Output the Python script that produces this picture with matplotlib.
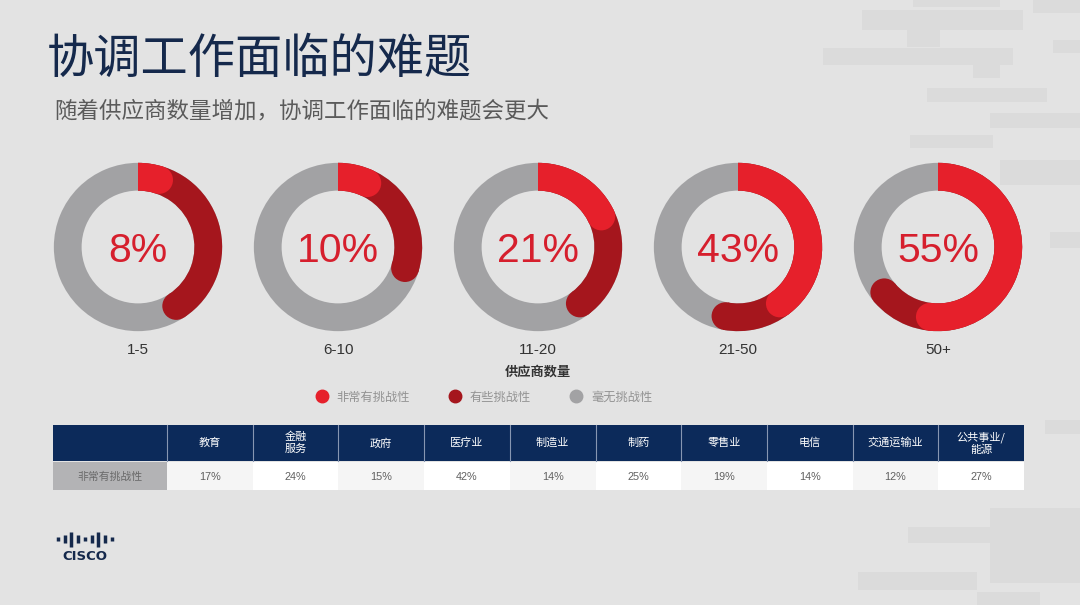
import numpy as np
import matplotlib
matplotlib.use("Agg")
import matplotlib.pyplot as plt
from matplotlib.patches import Rectangle, Circle, Wedge
from matplotlib.lines import Line2D

plt.rcParams['font.family'] = ['Noto Sans CJK SC', 'DejaVu Sans']
LATIN = ['Liberation Sans', 'Noto Sans CJK SC']

# --- data --- #
groups = ["1-5", "6-10", "11-20", "21-50", "50+"]
very_hard = [8, 10, 21, 43, 55]
some_hard = [36, 23, 22, 13, 12]
legend_labels = ["非常有挑战性", "有些挑战性", "毫无挑战性"]

industries = ["教育", "金融\n服务", "政府", "医疗业", "制造业", "制药",
              "零售业", "电信", "交通运输业", "公共事业/\n能源"]
industry_vals = [17, 24, 15, 42, 14, 25, 19, 14, 12, 27]
row_label = "非常有挑战性"

title = "协调工作面临的难题"
subtitle = "随着供应商数量增加，协调工作面临的难题会更大"
xlabel = "供应商数量"

# --- colours --- #
BG = '#e3e3e3'
RED = '#e6202b'
DARK = '#a5161d'
GRAY = '#a2a2a4'
NAVY = '#0c2a5a'
TITLE_C = '#15294c'

W, H = 1080, 605
fig = plt.figure(figsize=(W / 100, H / 100), dpi=100, facecolor=BG)
ax = fig.add_axes([0, 0, 1, 1])
ax.set_xlim(0, W)
ax.set_ylim(H, 0)
ax.axis('off')

# faint background blocks
blocks = [(862, 10, 161, 20), (913, 0, 87, 7), (907, 30, 33, 17), (823, 48, 190, 17),
          (973, 65, 27, 13), (927, 88, 120, 14), (990, 113, 90, 15), (910, 135, 83, 13),
          (1053, 40, 27, 13), (1033, 0, 47, 13), (1000, 160, 80, 25), (1050, 232, 30, 16),
          (1045, 420, 35, 14), (990, 508, 90, 75), (908, 527, 99, 16), (858, 572, 119, 18),
          (977, 592, 63, 13)]
for bx, by, bw, bh in blocks:
    ax.add_patch(Rectangle((bx, by), bw, bh, color='#dbdbdb', lw=0, zorder=0))

# --- titles --- #
ax.text(47, 60, title, fontsize=34, color=TITLE_C, va='center', ha='left')
ax.text(54, 111, subtitle, fontsize=16.2, color='#5a5a5a', va='center', ha='left')

# --- donuts --- #
ring_w = 0.33
rm = 1 - ring_w / 2
cap = np.degrees((ring_w / 2) / rm)
for i, (g, v, s) in enumerate(zip(groups, very_hard, some_hard)):
    cx, cy, r = 138 + i * 200, 247, 85
    dax = fig.add_axes([(cx - r) / W, 1 - (cy + r) / H, 2 * r / W, 2 * r / H])
    dax.add_patch(Wedge((0, 0), 1, 0, 360, width=ring_w, color=GRAY, lw=0))
    # red arcs with rounded ends, clockwise from 12 o'clock
    for frac, col in [((v + s) / 100, DARK), (v / 100, RED)]:
        end = 90 - 360 * frac + cap
        dax.add_patch(Wedge((0, 0), 1, end, 90, width=ring_w, color=col, lw=0))
        a = np.radians(end)
        dax.add_patch(Circle((rm * np.cos(a), rm * np.sin(a)), ring_w / 2, color=col, lw=0))
    dax.text(0, -0.05, f"{v}%", fontsize=29.5, color='#d61f2d', ha='center', va='center',
             family=LATIN)
    dax.set_xlim(-1.01, 1.01)
    dax.set_ylim(-1.01, 1.01)
    dax.set_aspect('equal')
    dax.axis('off')
    ax.text(cx, 350, g, fontsize=11, color='#333333', ha='center', va='center', family=LATIN)

ax.text(538, 372, xlabel, fontsize=9.5, color='#333333', ha='center', va='center',
        fontweight='bold')

handles = [Line2D([], [], ls='', marker='o', markersize=9, color=c) for c in (RED, DARK, GRAY)]
leg = ax.legend(handles, legend_labels, loc='center', bbox_to_anchor=(481 / W, 1 - 397 / H),
                bbox_transform=fig.transFigure, ncol=3, frameon=False, fontsize=8.8,
                handletextpad=0.2, columnspacing=2.7, labelcolor='#939393')

# --- table --- #
tx0, tx1 = 53, 1024
first_w = 114
col_w = (tx1 - tx0 - first_w) / len(industries)
hy0, hy1, dy1 = 425, 461, 490
ax.add_patch(Rectangle((tx0, hy0), tx1 - tx0, hy1 - hy0, color=NAVY, lw=0))
ax.add_patch(Rectangle((tx0, hy1 + 1), first_w, dy1 - hy1 - 1, color='#b3b3b5', lw=0))
ax.text(tx0 + first_w / 2, (hy1 + dy1) / 2 + 1, row_label, fontsize=7.8, color='#6a6a6a',
        ha='center', va='center')
for j, (name, val) in enumerate(zip(industries, industry_vals)):
    x = tx0 + first_w + j * col_w
    ax.plot([x, x], [hy0, hy1], color='#8796b2', lw=0.8)
    ax.text(x + col_w / 2, (hy0 + hy1) / 2, name, fontsize=8, color='white',
            ha='center', va='center', linespacing=1.2)
    ax.add_patch(Rectangle((x, hy1 + 1), col_w, dy1 - hy1 - 1,
                           color='#f5f5f5' if j % 2 == 0 else 'white', lw=0))
    ax.text(x + col_w / 2, (hy1 + dy1) / 2 + 1, f"{val}%", fontsize=7.8, color='#606060',
            ha='center', va='center', family=LATIN)

# --- cisco logo --- #
bar_h = [4, 8, 15, 8, 4, 8, 15, 8, 4]
for k, h in enumerate(bar_h):
    bx = 58 + k * 6.7
    ax.plot([bx, bx], [539 - h / 2, 539 + h / 2], color=TITLE_C, lw=2.5, solid_capstyle='butt')
ax.text(85, 557, "CISCO", fontsize=9.5, color=TITLE_C, fontweight='bold', ha='center',
        va='center', family=['DejaVu Sans'])

fig.savefig("out.png", dpi=100, facecolor=BG)
